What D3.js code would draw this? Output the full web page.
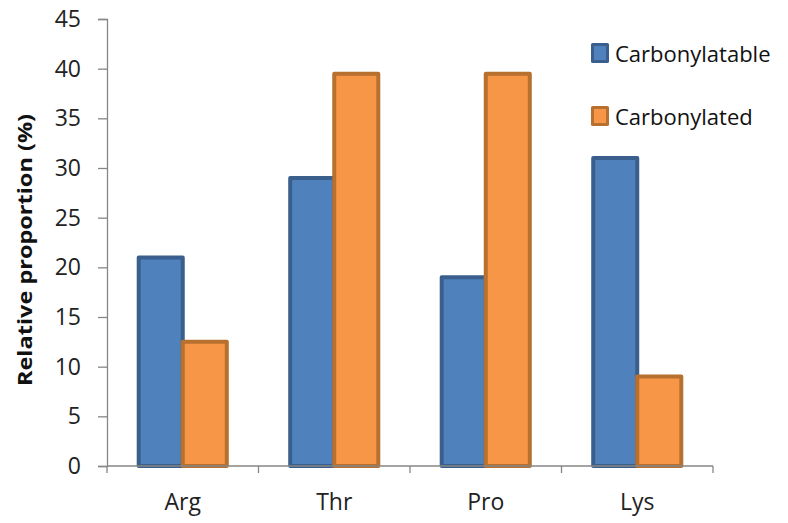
<!DOCTYPE html>
<html>
<head>
<meta charset="utf-8">
<script src="https://cdn.jsdelivr.net/npm/d3@7"></script>
<style>
  html, body { margin: 0; padding: 0; background: #fff; }
  svg { display: block; font-family: "Open Sans", sans-serif; }
</style>
</head>
<body>
<svg id="chart" width="788" height="523"></svg>
<script>
const categories = ["Arg", "Thr", "Pro", "Lys"];
const seriesNames = ["Carbonylatable", "Carbonylated"];
const carbonylatable = [21, 29, 19, 31];
const carbonylated = [12.5, 39.5, 39.5, 9];
const yTicks = [0, 5, 10, 15, 20, 25, 30, 35, 40, 45];
const fills = ["#4F81BD", "#F79646"];
const strokes = ["#3A5F8D", "#B8702F"];

const seriesValues = [carbonylatable, carbonylated];
const data = categories.map((c, i) => ({ cat: c, vals: seriesValues.map((s, j) => ({ key: seriesNames[j], j, v: s[i] })) }));

const svg = d3.select("#chart");
const mLeft = 107, mRight = 713, mTop = 19, mBottom = 466;

const x = d3.scaleBand().domain(categories).range([mLeft, mRight]).paddingInner(0).paddingOuter(0);
const x1 = d3.scaleBand().domain(seriesNames).range([0, x.bandwidth()]).paddingInner(0).paddingOuter(0.72);
const y = d3.scaleLinear().domain([0, 45]).range([mBottom, mTop]);

const axisColor = "#868686";

// Y axis
const yAxis = svg.append("g").attr("transform", `translate(${mLeft},0)`)
  .call(d3.axisLeft(y).tickValues(yTicks).tickSize(9).tickPadding(17).tickFormat(d3.format("d")));
yAxis.select(".domain").attr("stroke", axisColor).attr("stroke-width", 1.3);
yAxis.selectAll(".tick line").attr("stroke", axisColor).attr("stroke-width", 1.3);
yAxis.selectAll(".tick text").attr("fill", "#222").attr("font-size", 23).attr("font-family", "Open Sans, sans-serif");

// Bars
const groups = svg.append("g").selectAll("g").data(data).join("g")
  .attr("transform", d => `translate(${x(d.cat)},0)`);
groups.selectAll("rect").data(d => d.vals).join("rect")
  .attr("x", d => x1(d.key))
  .attr("y", d => y(d.v))
  .attr("width", x1.bandwidth())
  .attr("height", d => y(0) - y(d.v))
  .attr("fill", d => fills[d.j])
  .attr("stroke", d => strokes[d.j])
  .attr("stroke-width", 4)
  .attr("stroke-linejoin", "round");

// X axis
const xAxisG = svg.append("g").attr("transform", `translate(0,${mBottom})`);
xAxisG.append("line").attr("x1", mLeft).attr("x2", mRight).attr("y1", 0).attr("y2", 0)
  .attr("stroke", axisColor).attr("stroke-width", 1.3);
const boundaries = categories.map(c => x(c)).concat([x(categories[categories.length - 1]) + x.bandwidth()]);
xAxisG.selectAll("line.tk").data(boundaries).join("line").attr("class", "tk")
  .attr("x1", d => d).attr("x2", d => d).attr("y1", 0).attr("y2", 7)
  .attr("stroke", axisColor).attr("stroke-width", 1.3);
xAxisG.selectAll("text").data(categories).join("text")
  .attr("x", d => x(d) + x.bandwidth() / 2)
  .attr("y", 44)
  .attr("text-anchor", "middle")
  .attr("font-size", 23)
  .attr("fill", "#222")
  .text(d => d);

// Y label
svg.append("text")
  .attr("transform", `translate(32,250) rotate(-90)`)
  .attr("text-anchor", "middle")
  .attr("font-size", 20)
  .attr("font-weight", "bold")
  .attr("fill", "#111")
  .attr("textLength", 272)
  .attr("lengthAdjust", "spacingAndGlyphs")
  .text("Relative proportion (%)");

// Legend
const legend = svg.append("g").selectAll("g").data(seriesNames).join("g")
  .attr("transform", (d, i) => `translate(591,${43 + i * 63})`);
legend.append("rect")
  .attr("x", 1.5).attr("y", 1.5).attr("width", 15).attr("height", 17)
  .attr("fill", (d, i) => fills[i])
  .attr("stroke", (d, i) => strokes[i])
  .attr("stroke-width", 3)
  .attr("stroke-linejoin", "round");
legend.append("text")
  .attr("x", 24).attr("y", 10)
  .attr("dominant-baseline", "central")
  .attr("font-size", 22)
  .attr("fill", "#111")
  .text(d => d);
</script>
</body>
</html>
